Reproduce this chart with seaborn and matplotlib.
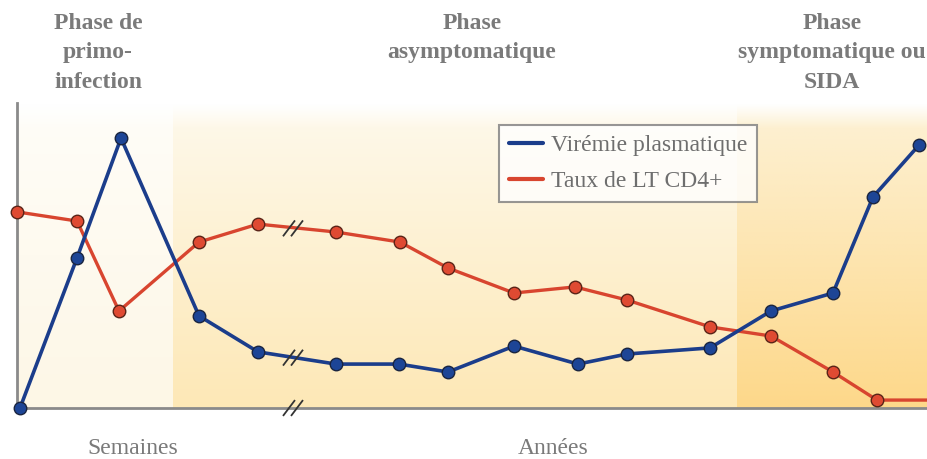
import numpy as np
import pandas as pd
import matplotlib
matplotlib.use("Agg")
import matplotlib.pyplot as plt
import seaborn as sns
from matplotlib.colors import to_rgb
from matplotlib.lines import Line2D

# ---- data (time in arbitrary units, values in % of max) ----
viremie_x = [3, 60, 104, 182, 241, 319, 382, 431, 497, 561, 610, 693, 754, 816, 856, 902]
viremie_y = [0, 49.2, 88.5, 30.2, 18.4, 14.4, 14.4, 11.8, 20.3, 14.4, 17.7, 19.7, 31.8, 37.7, 69.2, 86.2]
cd4_x = [0, 60, 102, 182, 241, 319, 383, 431, 497, 558, 610, 693, 754, 816, 860, 910]
cd4_y = [64.3, 61.3, 31.8, 54.4, 60.3, 57.7, 54.4, 45.9, 37.7, 39.7, 35.4, 26.6, 23.6, 11.8, 2.6, 2.6]

series_names = ["Virémie plasmatique", "Taux de LT CD4+"]
phase_titles = ["Phase de\nprimo-\ninfection", "Phase\nasymptomatique", "Phase\nsymptomatique ou\nSIDA"]
unit_labels = ["Semaines", "Années"]

BLUE = "#1b3d8b"
RED = "#d8452f"
GRAY = "#7a7a7a"

sns.set_theme(style="white")
plt.rcParams["font.family"] = ["Liberation Serif", "DejaVu Serif"]

W, H = 927, 459
fig = plt.figure(figsize=(W / 100, H / 100), dpi=100)
ax = fig.add_axes([17 / W, (H - 408) / H, 910 / W, 305 / H])
ax.set_xlim(0, 910)
ax.set_ylim(0, 100)

# ---- background gradients ----
def vgrad(x0, x1, top, bottom, fade=0.08):
    n = 200
    t = np.linspace(0, 1, n)[:, None]  # 0 top -> 1 bottom
    top_c = np.array(to_rgb(top))
    bot_c = np.array(to_rgb(bottom))
    col = top_c + (bot_c - top_c) * t
    f = np.clip(t / fade, 0, 1)
    col = 1 - (1 - col) * f
    img = col[:, None, :].repeat(2, axis=1)
    ax.imshow(img, extent=(x0, x1, 0, 100), aspect="auto", zorder=0, interpolation="bilinear")

vgrad(0, 156, "#fffdf8", "#fdf7e6")
vgrad(156, 720, "#fef9ec", "#fde8b6")
vgrad(720, 910, "#fdf2d6", "#fdd88a")
ax.set_xlim(0, 910)
ax.set_ylim(0, 100)

# ---- lines ----
df_v = pd.DataFrame({"t": viremie_x, "v": viremie_y})
df_c = pd.DataFrame({"t": cd4_x, "v": cd4_y})
sns.lineplot(data=df_v, x="t", y="v", ax=ax, color=BLUE, lw=2.6, sort=False,
             marker="o", markersize=9, markeredgecolor="#1a2540", markeredgewidth=1.0,
             markerfacecolor="#1d4596", zorder=4, clip_on=False)
sns.lineplot(data=df_c, x="t", y="v", ax=ax, color=RED, lw=2.4, sort=False,
             marker="o", markersize=9, markeredgecolor="#5a2418", markeredgewidth=1.0,
             markerfacecolor="#df4a32", markevery=list(range(len(cd4_x) - 1)),
             zorder=3, clip_on=False)

# ---- break marks // ----
def brk(xc, yc):
    for dx in (-5, 3):
        ax.plot([xc + dx - 6, xc + dx + 6], [yc - 2.6, yc + 2.6], color="#333333",
                lw=1.3, zorder=6, clip_on=False, solid_capstyle="butt")

brk(277, 58.9)
brk(277, 16.5)
brk(277, 0)

# ---- spines ----
for s in ["top", "right"]:
    ax.spines[s].set_visible(False)
for s in ["left", "bottom"]:
    ax.spines[s].set_color("#8a8a8a")
    ax.spines[s].set_linewidth(2)
ax.set_xticks([])
ax.set_yticks([])
ax.set_xlabel("")
ax.set_ylabel("")

# ---- legend ----
handles = [Line2D([0], [0], color=BLUE, lw=3), Line2D([0], [0], color=RED, lw=3)]
leg = ax.legend(handles, series_names, loc="upper left", bbox_to_anchor=(0.530, 0.927),
                frameon=True, fancybox=False, fontsize=17, handlelength=1.45,
                handletextpad=0.35, labelspacing=0.62, borderpad=0.4, labelcolor="#6e6e6e",
                borderaxespad=0)
leg.get_frame().set_edgecolor("#7d7d7d")
leg.get_frame().set_linewidth(1.5)
leg.get_frame().set_facecolor("white")
leg.set_zorder(7)

# ---- phase titles ----
for xp, txt in zip([98, 472, 832], phase_titles):
    fig.text(xp / W, 1 - 13 / H, txt, ha="center", va="top", fontsize=17,
             color=GRAY, fontweight="bold", linespacing=1.52)

# ---- bottom unit labels ----
for xp, txt in zip([133, 553], unit_labels):
    fig.text(xp / W, 1 - 448 / H, txt, ha="center", va="center", fontsize=17, color=GRAY)

fig.savefig("out.png", dpi=100, facecolor="white")
